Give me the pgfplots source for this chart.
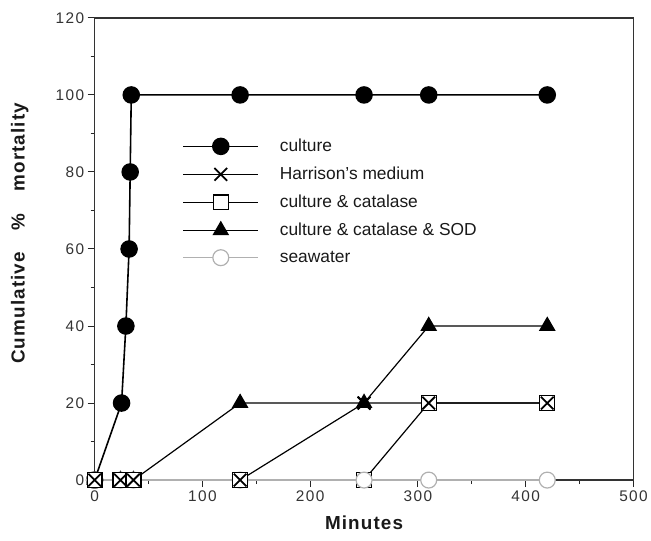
\documentclass[border=0pt]{standalone}
\usepackage{pgfplots}
\pgfplotsset{compat=1.18}
\usepackage{fontspec}
\setmainfont{Liberation Sans}
\newfontfamily\spaced[LetterSpace=9]{Liberation Sans}
\newfontfamily\boldspaced[LetterSpace=6]{Liberation Sans Bold}
\definecolor{txt}{HTML}{333333}
\definecolor{sea}{HTML}{B0B0B0}
\begin{document}
\begin{tikzpicture}[x=1bp,y=1bp]
\path (0,0) rectangle (651,543);
\begin{axis}[
  at={(95bp,61bp)}, anchor=south west,
  scale only axis, width=541bp, height=464bp,
  xmin=0, xmax=500, ymin=0, ymax=120,
  xtick={0,100,...,500}, ytick={0,20,...,120},
  minor xtick={50,150,...,450}, minor ytick={10,30,...,110},
  tick align=outside, tick pos=left,
  major tick length=7bp, minor tick length=4bp,
  axis line style={line width=1.2bp, black!80},
  every tick/.style={black!85, line width=1bp},
  /pgf/number format/assume math mode=true,
  tick label style={font=\fontsize{15.5}{15.5}\selectfont\spaced, text=txt},
  clip=false,
  xlabel={Minutes},
  xlabel style={at={(axis description cs:0.5,-0.093)}, anchor=center, font=\fontsize{19}{19}\selectfont\boldspaced, text=black!90},
  ylabel={Cumulative\hspace{22bp}\%\hspace{22bp}mortality},
  ylabel style={at={(axis description cs:-0.139,0.534)}, anchor=center, rotate=0, font=\fontsize{19}{19}\selectfont\boldspaced, text=black!90},
  legend style={at={(0.163,0.742)}, anchor=north west, draw=none, fill=none,
    font=\fontsize{17.5}{18}\selectfont, text=black!90, row sep=10bp, inner sep=0pt},
  legend cell align=left,
  legend image code/.code={\draw[mark repeat=2,mark phase=2,#1] plot coordinates {(0bp,0bp) (37.5bp,0bp) (75bp,0bp)}; \path (94bp,0bp);},
]
\addplot[black, line width=1.6bp, mark=*, mark size=8bp, mark options={fill=black}]
  coordinates {(0,0) (25,20) (29,40) (32,60) (33,80) (34,100) (135,100) (250,100) (310,100) (420,100)};
\addlegendentry{culture}
\addplot[black, line width=1.2bp, mark=x, mark size=9bp, mark options={line width=1.8bp}]
  coordinates {(0,0) (24,0) (36,0) (135,0) (250,20) (310,20) (420,20)};
\addlegendentry{Harrison's medium}
\addplot[black, line width=1.2bp, mark=square*, mark size=7.5bp, mark options={fill=white, line width=1.3bp}]
  coordinates {(0,0) (24,0) (36,0) (135,0) (250,0) (310,20) (420,20)};
\addlegendentry{culture \& catalase}
\addplot[black, line width=1.2bp, mark=triangle*, mark size=8.5bp, mark options={fill=black}]
  coordinates {(0,0) (24,0) (36,0) (135,20) (250,20) (310,40) (420,40)};
\addlegendentry{culture \& catalase \& SOD}
\addplot[sea, line width=1.2bp, mark=*, mark size=8bp, mark options={fill=white, draw=sea}]
  coordinates {(0,0) (24,0) (36,0) (135,0) (250,0) (310,0) (420,0)};
\addlegendentry{seawater}
\addplot[black, line width=1.2bp, mark=square*, mark size=7.5bp, mark options={fill=white, line width=1.3bp}, forget plot, only marks]
  coordinates {(0,0) (24,0) (36,0) (135,0) (310,20) (420,20)};
\addplot[black, mark=x, mark size=9bp, mark options={line width=1.8bp}, forget plot, only marks]
  coordinates {(0,0) (24,0) (36,0) (135,0) (250,20) (310,20) (420,20)};
\addplot[black, mark=*, mark size=8bp, mark options={fill=black}, forget plot, only marks]
  coordinates {(25,20) (29,40) (32,60) (33,80) (34,100)};
\end{axis}
\end{tikzpicture}
\end{document}
